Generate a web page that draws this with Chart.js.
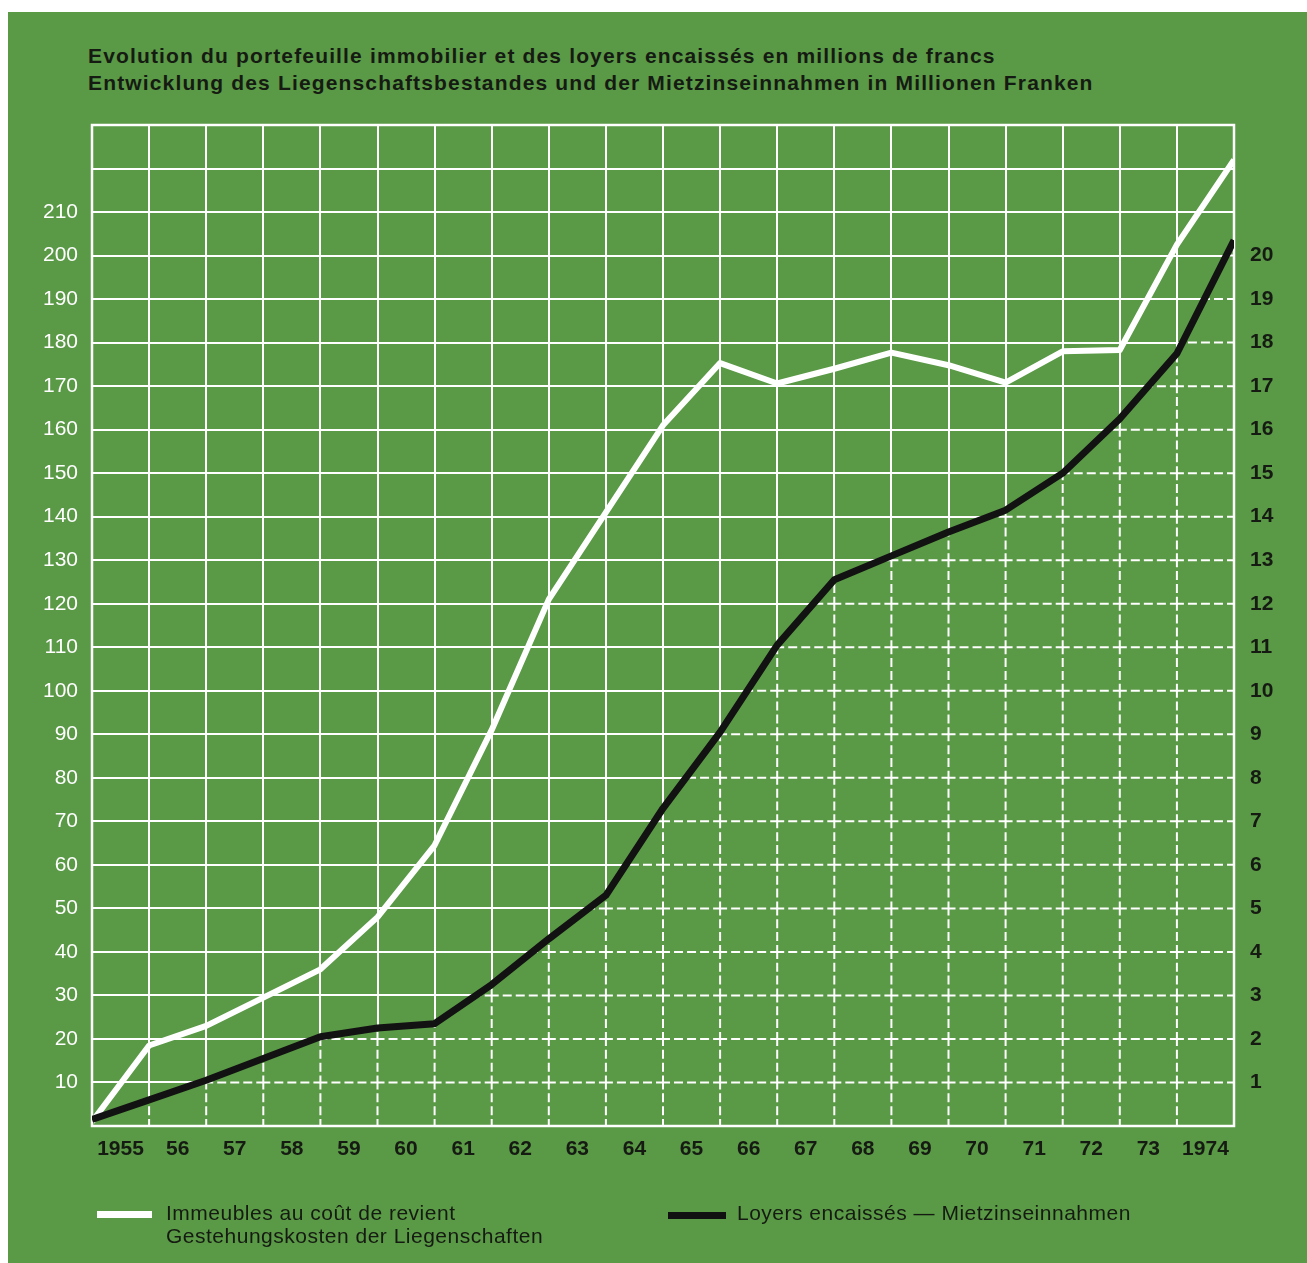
<!DOCTYPE html>
<html>
<head>
<meta charset="utf-8">
<script src="https://cdn.jsdelivr.net/npm/chart.js@4.4.1/dist/chart.umd.min.js"></script>
<style>
  html, body { margin: 0; padding: 0; background: #ffffff; width: 1307px; height: 1263px; overflow: hidden; }
  #panel { position: absolute; left: 8px; top: 12px; width: 1299px; height: 1251px; background: #5a9946; }
  #wrap { position: absolute; left: 0; top: 0; width: 1307px; height: 1263px; }
  .title { position: absolute; left: 88px; font: bold 21px "Liberation Sans", Arial, sans-serif; line-height: 21px; color: #151b12; white-space: nowrap; letter-spacing: 1.15px; }
  .leg { position: absolute; font: 21px "Liberation Sans", Arial, sans-serif; line-height: 23px; color: #151b12; white-space: nowrap; letter-spacing: 0.5px; }
  .sw { position: absolute; height: 7px; }
</style>
</head>
<body>
<div id="panel"></div>
<div class="title" style="top:45px">Evolution du portefeuille immobilier et des loyers encaissés en millions de francs</div>
<div class="title" style="top:72px">Entwicklung des Liegenschaftsbestandes und der Mietzinseinnahmen in Millionen Franken</div>
<div id="wrap"><canvas id="c" width="1307" height="1263"></canvas></div>
<div class="sw" style="left:97px;top:1211px;width:55px;background:#ffffff"></div>
<div class="leg" style="left:166px;top:1201px">Immeubles au coût de revient<br>Gestehungskosten der Liegenschaften</div>
<div class="sw" style="left:668px;top:1212px;width:58px;background:#111111"></div>
<div class="leg" style="left:737px;top:1201px">Loyers encaissés — Mietzinseinnahmen</div>
<script>
// ---- data ----
const years = ['1955','56','57','58','59','60','61','62','63','64','65','66','67','68','69','70','71','72','73','1974'];
// value at each year boundary (start of 1955 .. end of 1974), millions of francs
const buildings = [1, 18.5, 23, 29.5, 36, 48, 64.5, 91, 121, 141, 161, 175.3, 170.6, 174, 177.7, 174.8, 170.8, 178, 178.3, 202.5, 222];
const rents = [0.15, 0.6, 1.05, 1.55, 2.05, 2.25, 2.35, 3.25, 4.3, 5.3, 7.3, 9.05, 11.05, 12.55, 13.1, 13.65, 14.15, 15.0, 16.25, 17.75, 20.35];
const leftTicks = [10,20,30,40,50,60,70,80,90,100,110,120,130,140,150,160,170,180,190,200,210];
const rightTicks = [1,2,3,4,5,6,7,8,9,10,11,12,13,14,15,16,17,18,19,20];

const GREEN = '#5a9946';
const INK = '#151b12';
const FONT = '"Liberation Sans", Arial, sans-serif';

function dashedSeg(ctx, x1, y1, x2, y2) {
  const L = Math.hypot(x2 - x1, y2 - y1);
  const ux = (x2 - x1) / L, uy = (y2 - y1) / L;
  const a = 7, d = 9;
  const n = Math.max(0, Math.round((L - 2 * a) / (d + 5)));
  const g = (L - 2 * a - n * d) / (n + 1);
  const parts = [[0, a]];
  for (let k = 0; k < n; k++) { const s = a + g + k * (d + g); parts.push([s, s + d]); }
  parts.push([L - a, L]);
  for (const [s, e] of parts) {
    ctx.moveTo(x1 + ux * s, y1 + uy * s);
    ctx.lineTo(x1 + ux * e, y1 + uy * e);
  }
}

const underGrid = {
  id: 'underGrid',
  beforeDatasetsDraw(chart) {
    const ctx = chart.ctx, area = chart.chartArea;
    const xs = chart.scales.x, ys = chart.scales.y;
    const meta = chart.getDatasetMeta(0); // rents line
    const pts = meta.data;
    ctx.save();
    ctx.beginPath();
    ctx.moveTo(pts[0].x, area.bottom);
    for (const p of pts) ctx.lineTo(p.x, p.y);
    ctx.lineTo(pts[pts.length - 1].x, area.bottom);
    ctx.closePath();
    ctx.clip();
    ctx.fillStyle = GREEN;
    ctx.fillRect(area.left, area.top, area.right - area.left, area.bottom - area.top);
    ctx.strokeStyle = '#ffffff';
    ctx.lineWidth = 2;
    ctx.beginPath();
    const xPos = [], yPos = [];
    for (let i = 0; i <= 20; i++) xPos.push(xs.getPixelForValue(i));
    for (let v = 0; v <= 230; v += 10) yPos.push(ys.getPixelForValue(v));
    for (let i = 1; i < xPos.length - 1; i++) {
      for (let j = 0; j < yPos.length - 1; j++) dashedSeg(ctx, xPos[i], yPos[j], xPos[i], yPos[j + 1]);
    }
    for (let j = 1; j < yPos.length - 1; j++) {
      for (let i = 0; i < xPos.length - 1; i++) dashedSeg(ctx, xPos[i], yPos[j], xPos[i + 1], yPos[j]);
    }
    ctx.stroke();
    ctx.restore();
    ctx.save();
    ctx.strokeStyle = '#ffffff';
    ctx.lineWidth = 2.5;
    ctx.strokeRect(area.left, area.top, area.right - area.left, area.bottom - area.top);
    ctx.restore();
  }
};

new Chart(document.getElementById('c'), {
  type: 'line',
  data: {
    datasets: [
      {
        label: 'Loyers encaissés — Mietzinseinnahmen',
        data: rents.map((v, i) => ({ x: i, y: v })),
        yAxisID: 'y1',
        borderColor: '#121212',
        borderWidth: 7,
        pointRadius: 0,
        tension: 0,
        fill: false,
        borderJoinStyle: 'round'
      },
      {
        label: 'Immeubles au coût de revient',
        data: buildings.map((v, i) => ({ x: i, y: v })),
        yAxisID: 'y',
        borderColor: '#ffffff',
        borderWidth: 6,
        pointRadius: 0,
        tension: 0,
        fill: false,
        borderJoinStyle: 'round'
      }
    ]
  },
  options: {
    responsive: false,
    animation: false,
    devicePixelRatio: 1,
    layout: { padding: { top: 125, left: 0, right: 0, bottom: 0 }, autoPadding: false },
    plugins: { legend: { display: false }, tooltip: { enabled: false }, title: { display: false } },
    scales: {
      x: {
        type: 'linear', position: 'bottom', min: 0, max: 20,
        ticks: { display: false, stepSize: 1 },
        grid: { color: '#ffffff', lineWidth: 2, drawTicks: false },
        border: { display: false },
        afterFit(s) { s.height = 0; }
      },
      xl: {
        type: 'category', position: 'bottom', labels: years, offset: true,
        grid: { display: false, drawTicks: false },
        border: { display: false },
        ticks: { color: INK, font: { family: FONT, size: 21, weight: 'bold' }, padding: 11, maxRotation: 0, autoSkip: false },
        afterFit(s) { s.height = 137; }
      },
      y: {
        position: 'left', min: 0, max: 230,
        ticks: {
          stepSize: 10, color: '#ffffff', padding: 14,
          font: { family: FONT, size: 21 },
          callback: v => leftTicks.includes(v) ? String(v) : ''
        },
        grid: { color: '#ffffff', lineWidth: 2, drawTicks: false },
        border: { display: false },
        afterFit(s) { s.width = 92; }
      },
      y1: {
        position: 'right', min: 0, max: 23,
        ticks: {
          stepSize: 1, color: INK, padding: 16,
          font: { family: FONT, size: 21, weight: 'bold' },
          callback: v => rightTicks.includes(v) ? String(v) : ''
        },
        grid: { display: false, drawTicks: false },
        border: { display: false },
        afterFit(s) { s.width = 73; }
      }
    }
  },
  plugins: [underGrid]
});
</script>
</body>
</html>
